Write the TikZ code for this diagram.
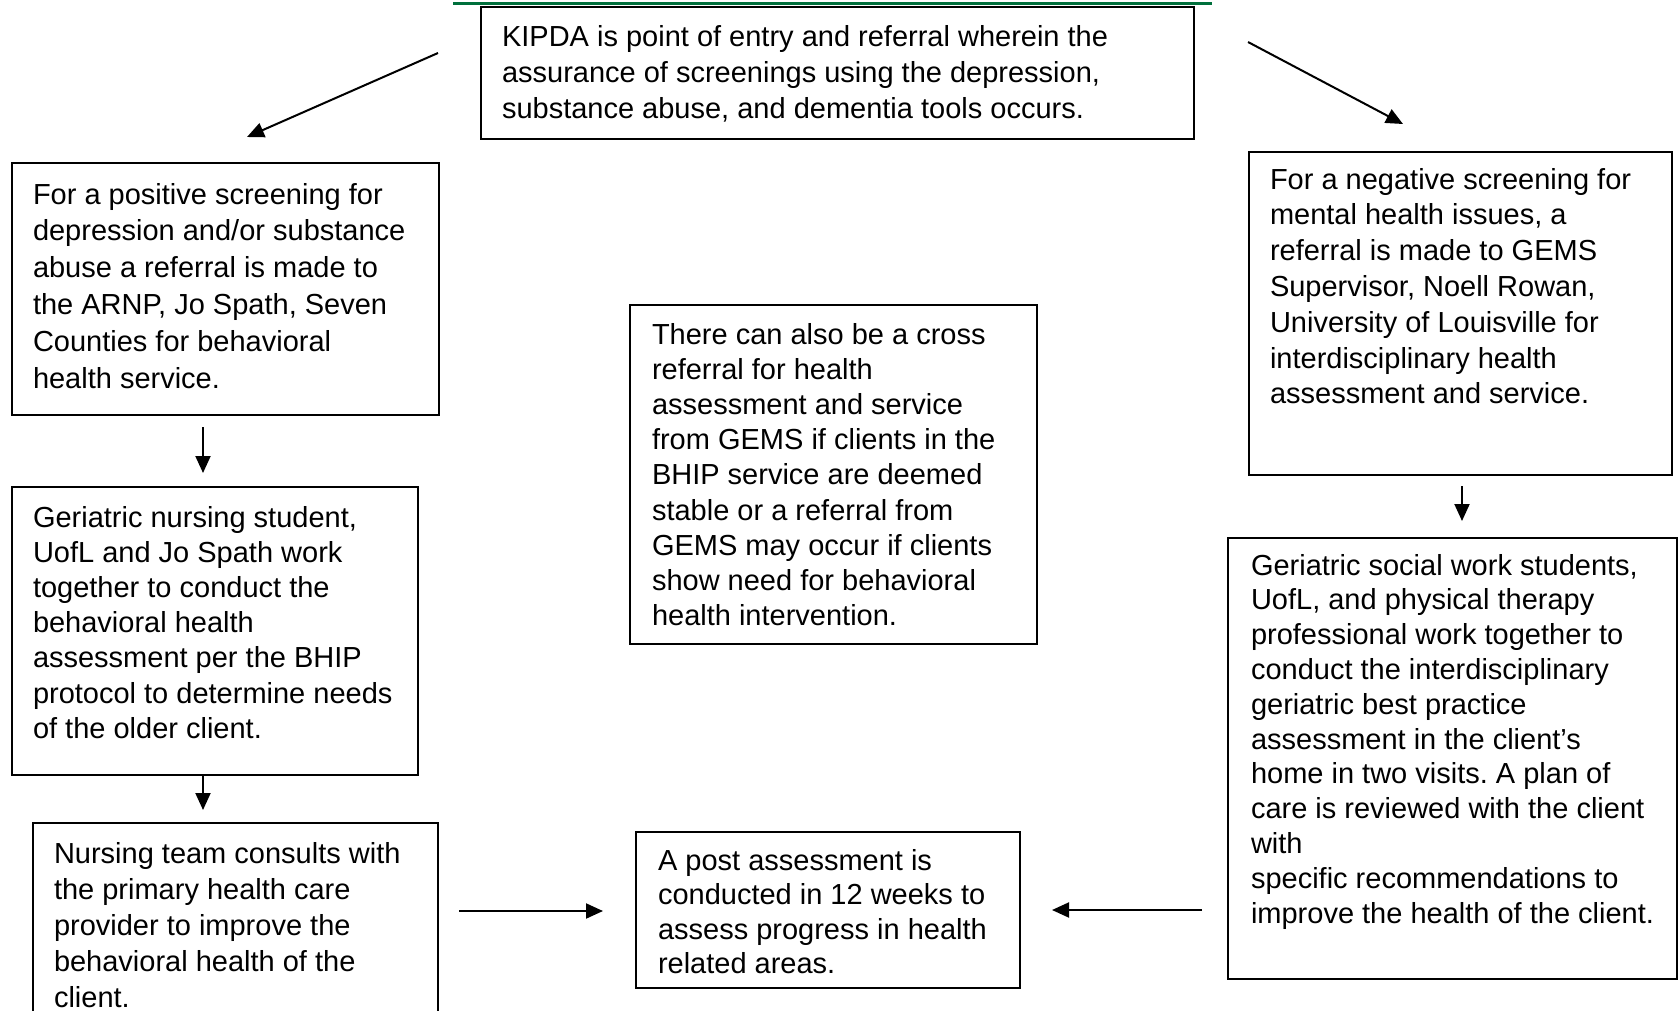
\documentclass[tikz,border=0pt]{standalone}
\usepackage{fontspec}
\setmainfont{Liberation Sans}
\usetikzlibrary{arrows.meta,calc}
\definecolor{hdrgreen}{RGB}{0,112,60}
% #1 width, #2 height, #3 left pad, #4 first baseline, #5 line spacing, #6 text
\newcommand{\bxt}[6]{\parbox[c][#2pt][t]{#1pt}{\fontsize{29pt}{#5pt}\selectfont\frenchspacing\raggedright\leftskip=#3pt\relax\rule{0pt}{#4pt}#6}}
\begin{document}
\begin{tikzpicture}[x=1pt,y=-1pt,
  box/.style={draw=black, line width=2pt, inner sep=0pt, anchor=north west},
  arr/.style={line width=2pt, -{Triangle[length=17pt,width=15pt]}}]
\useasboundingbox (0,0) rectangle (1679,1010);
\draw[hdrgreen, line width=3pt] (453,3) -- (1212,3);

\node[box] (kipda) at (480,6) {\bxt{713}{132}{21}{39}{36}{KIPDA is point of entry and referral wherein the\\assurance of screenings using the depression,\\substance abuse, and dementia tools occurs.}};

\node[box] (pos) at (11,162) {\bxt{427}{252}{21}{41}{36.8}{For a positive screening for\\depression and/or substance\\abuse a referral is made to\\the ARNP, Jo Spath, Seven\\Counties for behavioral\\health service.}};

\node[box] (nurse) at (11,486) {\bxt{406}{288}{21}{40}{35.2}{Geriatric nursing student,\\UofL and Jo Spath work\\together to conduct the\\behavioral health\\assessment per the BHIP\\protocol to determine needs\\of the older client.}};

\node[box] (team) at (32,822) {\bxt{405}{208}{21}{40}{36}{Nursing team consults with\\the primary health care\\provider to improve the\\behavioral health of the\\client.}};

\node[box] (cross) at (629,304) {\bxt{407}{339}{22}{39}{35.2}{There can also be a cross\\referral for health\\assessment and service\\from GEMS if clients in the\\BHIP service are deemed\\stable or a referral from\\GEMS may occur if clients\\show need for behavioral\\health intervention.}};

\node[box] (post) at (635,831) {\bxt{384}{156}{22}{38}{34.6}{A post assessment is\\conducted in 12 weeks to\\assess progress in health\\related areas.}};

\node[box] (neg) at (1248,151) {\bxt{423}{323}{21}{37}{35.8}{For a negative screening for\\mental health issues, a\\referral is made to GEMS\\Supervisor, Noell Rowan,\\University of Louisville for\\interdisciplinary health\\assessment and service.}};

\node[box] (social) at (1227,537) {\bxt{449}{441}{23}{37}{34.8}{Geriatric social work students,\\UofL, and physical therapy\\professional work together to\\conduct the interdisciplinary\\geriatric best practice\\assessment in the client’s\\home in two visits. A plan of\\care is reviewed with the client\\with\\specific recommendations to\\improve the health of the client.}};

% free connector ends
\coordinate (kL) at (438,53);   \coordinate (posT) at (247,137);
\coordinate (kR) at (1248,42);  \coordinate (negT) at (1403,124);
\coordinate (posB) at (203,427);  \coordinate (nurseT) at (203,473);
\coordinate (nurseB) at (203,776); \coordinate (teamT) at (203,810);
\coordinate (negB) at (1462,486); \coordinate (socialT) at (1462,521);
\coordinate (teamR) at (459,911); \coordinate (postL) at (603,911);
\coordinate (socialL) at (1202,910); \coordinate (postR) at (1052,910);

\draw[arr] (kL) -- (posT);
\draw[arr] (kR) -- (negT);
\draw[arr] (posB) -- (nurseT);
\draw[arr] (nurseB) -- (teamT);
\draw[arr] (negB) -- (socialT);
\draw[arr] (teamR) -- (postL);
\draw[arr] (socialL) -- (postR);
\end{tikzpicture}
\end{document}
